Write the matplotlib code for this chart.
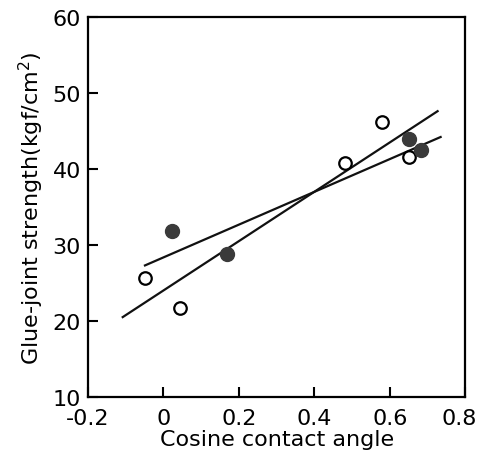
import matplotlib
matplotlib.use("Agg")
import matplotlib.pyplot as plt
import matplotlib.transforms as mtransforms

plt.rcParams['font.family'] = ['DejaVu Sans']
plt.rcParams['mathtext.default'] = 'regular'

# open circles
open_x = [-0.05, 0.044, 0.482, 0.58, 0.651]
open_y = [25.7, 21.7, 40.8, 46.2, 41.6]
# filled circles
filled_x = [0.023, 0.168, 0.651, 0.683]
filled_y = [31.8, 28.8, 43.9, 42.5]

# regression lines (end points)
line_open_x = [-0.108, 0.727]
line_open_y = [20.5, 47.6]
line_filled_x = [-0.049, 0.735]
line_filled_y = [27.3, 44.2]

xticks = [-0.2, 0, 0.2, 0.4, 0.6, 0.8]
xticklabels = ['-0.2', '0', '0.2', '0.4', '0.6', '0.8']
yticks = [10, 20, 30, 40, 50, 60]

fig = plt.figure(figsize=(4.81, 4.60), dpi=100)
ax = fig.add_axes([0.183, 0.135, 0.784, 0.826])

ax.plot(line_open_x, line_open_y, color='#111111', lw=1.6, zorder=2)
ax.plot(line_filled_x, line_filled_y, color='#111111', lw=1.6, zorder=2)
ax.plot(open_x, open_y, 'o', ms=9, mfc='white', mec='black', mew=1.6, zorder=3)
ax.plot(filled_x, filled_y, 'o', ms=10, mfc='#3a3a3a', mec='#3a3a3a', zorder=3)

ax.set_xlim(-0.2, 0.8)
ax.set_ylim(10, 60)
ax.set_xticks(xticks)
ax.set_xticklabels(xticklabels)
ax.set_yticks(yticks)
ax.tick_params(direction='in', length=7, width=1.5, labelsize=16)
ax.tick_params(axis='x', pad=8)
ax.tick_params(axis='y', pad=5)
for s in ax.spines.values():
    s.set_linewidth(1.6)

# keep the last x label inside the figure
last = ax.get_xticklabels()[-1]
last.set_transform(last.get_transform() + mtransforms.ScaledTranslation(-4 / 72, 0, fig.dpi_scale_trans))

ax.set_xlabel('Cosine contact angle', fontsize=16, labelpad=1)
ax.set_ylabel('Glue-joint strength(kgf/cm$^2$)', fontsize=16, labelpad=5)

fig.savefig('out.png', dpi=100)
